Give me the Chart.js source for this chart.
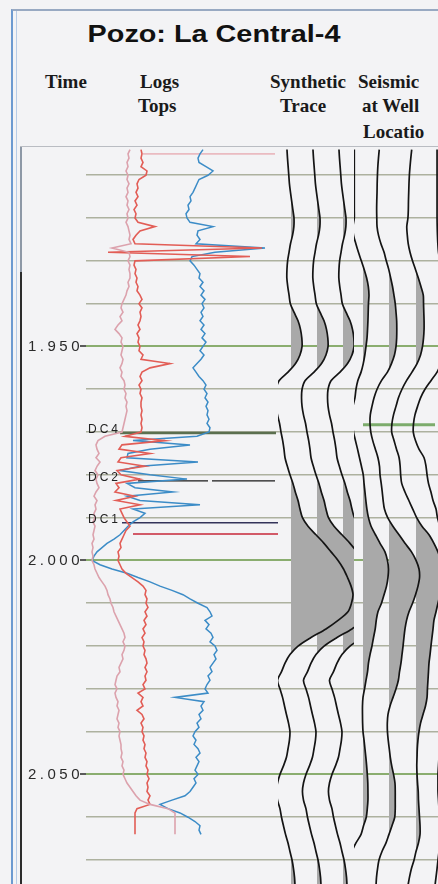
<!DOCTYPE html>
<html>
<head>
<meta charset="utf-8">
<script src="https://cdn.jsdelivr.net/npm/chart.js@4/dist/chart.umd.min.js"></script>
<style>
  html, body { margin: 0; padding: 0; }
  body { width: 438px; height: 884px; overflow: hidden; background: #f3f3f5; position: relative; }
  .frame { position: absolute; left: 11px; top: 9px; width: 440px; height: 890px; border-top: 2px solid #98a9c2; border-left: 2px solid #6d9ad0; }
  .frame2 { position: absolute; left: 16px; top: 11px; width: 1px; height: 880px; background: #b8cce6; }
  .panel { position: absolute; left: 20px; top: 146px; width: 430px; height: 750px; border-top: 1px solid #b9bcc2; }
  .edgeA { position: absolute; left: 20px; top: 147px; width: 2px; height: 125px; background: #8d98a6; }
  .edgeB { position: absolute; left: 20px; top: 272px; width: 2px; height: 620px; background: #2b2b2b; }
  .title { position: absolute; left: 214px; top: 22px; font: bold 24px "Liberation Sans", Arial, sans-serif; line-height: 24px; white-space: nowrap; color: #111; transform: translateX(-50%) scaleX(1.2); }
  .hd { position: absolute; font: bold 19px "Liberation Serif", "Times New Roman", serif; line-height: 19px; color: #1a1a1a; white-space: nowrap; }
  #wrap { position: absolute; left: 0; top: 147px; width: 470px; height: 737px; }
</style>
</head>
<body>
<div class="frame"></div>
<div class="frame2"></div>
<div class="panel"></div>
<div class="edgeA"></div>
<div class="edgeB"></div>

<div class="title">Pozo: La Central-4</div>
<div class="hd" style="left:45px;top:72px">Time</div>
<div class="hd" style="left:140px;top:72px">Logs</div>
<div class="hd" style="left:138px;top:96px">Tops</div>
<div class="hd" style="left:270px;top:72px">Synthetic</div>
<div class="hd" style="left:280px;top:96px">Trace</div>
<div class="hd" style="left:358px;top:72px">Seismic</div>
<div class="hd" style="left:362px;top:96px">at Well</div>
<div class="hd" style="left:363px;top:122px">Locatio</div>

<div id="wrap"><canvas id="c" width="470" height="737"></canvas></div>

<script>
// ---- time axis (seconds, two-way time) ----
const timeMin = 1.9034;
const timeMax = 2.0756;
const timeTicks = [1.91, 1.92, 1.93, 1.94, 1.95, 1.96, 1.97, 1.98, 1.99, 2.00, 2.01, 2.02, 2.03, 2.04, 2.05, 2.06, 2.07];
const timeTickLabels = ['', '', '', '', '1.950', '', '', '', '', '2.000', '', '', '', '', '2.050', '', ''];

// ---- well logs, sampled every 1 ms from 1.904 s (display units 0-192) ----
const logStart = 1.904;
const logStep = 0.001;
const logPink = [
  44,42,43,41,42,40,42,41,43,41,
  42,40,42,41,43,41,42,40,42,43,
  44,43,45,26,43,44,42,44,43,44,
  44,42,43,41,40,38,36,35,37,34,
  36,32,29,33,36,35,37,36,35,37,
  36,34,36,35,38,39,38,40,39,41,
  40,41,40,39,38,37,36,19,12,10,
  11,13,10,14,11,9,12,10,11,13,
  10,8,11,9,10,8,9,7,9,8,
  7,8,6,7,6,7,6,8,9,11,
  13,16,19,21,22,24,25,27,28,30,
  32,34,36,38,39,37,39,38,36,37,
  35,33,34,31,30,29,31,29,30,32,
  31,33,32,31,33,32,34,33,34,35,
  35,36,35,37,36,38,37,39,41,44,
  47,50,54,64,82,89,89,89,89,89,89
];
const logRed = [
  55,56,55,57,55,61,60,53,51,52,
  50,52,49,51,48,50,49,52,69,54,
  50,47,49,176,22,164,49,48,50,49,
  51,50,52,51,54,56,53,56,54,55,
  54,52,54,51,53,52,54,53,57,55,
  84,64,56,54,56,53,55,54,56,55,
  55,56,55,56,55,56,55,39,79,36,
  33,64,35,32,59,31,35,54,30,33,
  29,49,30,54,34,36,38,41,44,40,
  38,36,34,35,32,33,32,34,36,40,
  46,52,57,60,59,61,60,62,59,61,
  58,60,57,59,56,58,57,59,58,60,
  61,59,61,59,60,57,59,52,57,55,
  57,51,56,58,55,57,56,58,57,59,
  58,60,59,61,60,62,61,63,61,62,
  61,64,62,64,51,49,49,49,49,49,49
];
const logBlue = [
  117,114,112,113,120,127,122,113,111,109,
  107,104,105,102,103,100,101,104,127,112,
  111,114,110,179,129,106,104,108,111,114,
  113,117,114,118,115,119,116,118,115,117,
  114,118,115,119,116,120,117,114,118,115,
  111,107,110,113,117,120,118,121,119,122,
  120,122,121,123,121,124,123,111,47,104,
  64,42,41,112,54,34,64,101,41,49,
  87,41,54,114,47,59,54,47,42,38,
  34,28,21,16,11,8,6,14,26,41,
  52,64,74,86,97,104,112,121,124,126,
  119,123,120,125,127,124,129,131,128,130,
  127,124,126,122,124,121,119,122,89,118,
  115,117,113,115,111,113,109,107,110,108,
  112,114,110,113,111,109,112,108,110,107,
  104,99,86,74,82,94,102,109,114,113,115
];

// ---- formation tops and picks ----
const topNames = ['DC4', 'DC2', 'DC1'];
const topTimes = [1.9702, 1.9814, 1.9912];
const logHeadTime = 1.9050;
const logMarkTime = 1.9938;
const horizonTime = 1.9683;

// ---- traces, sampled every 2 ms from 1.904 s (normalised amplitude) ----
const traceStart = 1.904;
const traceStep = 0.002;
const synthetic = [
  -0.31,-0.27,-0.22,-0.17,-0.12,-0.04,0.05,0.14,0.23,0.22,
  0.12,-0.04,-0.15,-0.26,-0.31,-0.32,-0.25,-0.15,-0.05,0.23,
  0.54,0.73,0.83,0.85,0.69,0.35,-0.23,-0.92,-1.15,-1.19,
  -1.15,-1.04,-0.88,-0.77,-0.64,-0.54,-0.46,-0.28,-0.08,0.15,
  0.33,0.54,0.69,0.88,1.31,1.92,2.54,3.08,3.62,4.04,
  4.35,4.62,4.77,4.65,4.38,3.62,2.69,1.54,0.54,-0.08,
  -0.46,-0.73,-1.04,-0.85,-0.65,-0.5,-0.35,-0.19,-0.08,-0.12,
  -0.23,-0.35,-0.58,-0.85,-1.04,-1.12,-1.04,-0.85,-0.73,-0.58,
  -0.42,-0.23,-0.08,0.08,0.19,0.27,0.31
];
const seismicA = [
  -0.67,-0.67,-0.67,-0.67,-0.67,-0.67,-0.67,-0.67,-0.67,-0.77,
  -0.73,-0.55,-0.35,-0.13,0.09,0.28,0.41,0.46,0.42,0.4,
  0.38,0.35,0.31,0.23,0.14,0.02,-0.15,-0.4,-0.54,-0.62,
  -0.77,-0.81,-0.81,-0.73,-0.58,-0.42,-0.27,-0.12,0.02,0.08,
  0.15,0.22,0.3,0.42,0.62,0.96,1.31,1.69,1.88,1.96,
  1.92,1.81,1.62,1.42,1.15,1.02,0.94,0.81,0.69,0.54,
  0.42,0.35,0.23,0.12,0,-0.04,-0.04,-0.03,0,0.08,
  0.15,0.22,0.28,0.33,0.37,0.38,0.38,0.33,0.25,0.04,
  -0.15,-0.54,-0.85,-1.0,-1.08,-1.08,-1.08
];
const seismicB = [
  -0.75,-0.81,-0.86,-0.89,-0.91,-0.92,-0.94,-0.95,-0.94,-0.92,
  -0.81,-0.62,-0.38,-0.21,-0.02,0.13,0.27,0.38,0.48,0.54,
  0.59,0.6,0.59,0.54,0.42,0.19,-0.12,-0.58,-0.92,-1.15,
  -1.31,-1.44,-1.46,-1.4,-1.25,-1.05,-0.85,-0.73,-0.69,-0.6,
  -0.52,-0.45,-0.35,-0.1,0.3,0.77,1.23,1.73,2.08,2.31,
  2.35,2.23,2.04,1.81,1.54,1.35,1.23,1.15,1.08,1.0,
  0.92,0.81,0.72,0.54,0.31,0.08,-0.08,-0.13,-0.12,-0.06,
  0.02,0.1,0.21,0.35,0.46,0.48,0.48,0.48,0.44,0.23,
  0,-0.23,-0.54,-0.77,-0.88,-0.96,-1.0
];
const seismicC = [
  -0.33,-0.4,-0.46,-0.51,-0.54,-0.56,-0.58,-0.59,-0.62,-0.71,
  -0.67,-0.6,-0.46,-0.27,-0.04,0.18,0.38,0.56,0.58,0.6,
  0.62,0.62,0.58,0.5,0.35,0.08,-0.31,-0.73,-1.08,-1.35,
  -1.54,-1.73,-1.85,-1.87,-1.69,-1.5,-1.3,-1.22,-1.18,-1.1,
  -0.85,-0.55,-0.25,0.05,0.46,1.0,1.38,1.69,1.92,2.08,
  2.08,2.0,1.85,1.69,1.54,1.38,1.31,1.23,1.15,1.08,
  1.0,0.96,0.92,0.88,0.85,0.73,0.54,0.35,0.23,0.15,
  0.1,0.08,0.06,0.08,0.12,0.17,0.19,0.23,0.27,0.31,
  0.31,0.19,0,-0.15,-0.35,-0.5,-0.62
];
const seismicD = [
  -0.38,-0.38,-0.38,-0.38,-0.38,-0.38,-0.38,-0.38,-0.38,-0.37,
  -0.35,-0.32,-0.27,-0.15,0.08,0.31,0.54,0.62,0.62,0.62,
  0.58,0.54,0.46,0.35,0.19,-0.08,-0.38,-0.85,-1.31,-1.65,
  -1.88,-2.08,-2.19,-2.21,-2.04,-1.77,-1.38,-1.23,-1.15,-1.04,
  -0.85,-0.69,-0.46,-0.35,-0.15,0.23,0.62,1.0,1.31,1.54,
  1.62,1.62,1.54,1.38,1.23,1.08,0.92,0.77,0.69,0.62,
  0.54,0.46,0.38,0.31,0.23,0.15,0.08,0,-0.08,-0.15,
  -0.19,-0.23,-0.27,-0.31,-0.31,-0.31,-0.27,-0.23,-0.19,-0.15,
  -0.15,-0.19,-0.23,-0.31,-0.38,-0.46,-0.54
];

// ---- track layout: columns placed side by side along the bottom stack ----
const GAIN = 13; // pixels per unit of trace amplitude
const columns = [
  { id: 'xLog',   width: 192, min: 0, max: 192 },
  { id: 'syn1',   width: 26, lo: 13, hi: 13 },
  { id: 'syn2',   width: 26, lo: 13, hi: 13 },
  { id: 'syn3',   width: 24, lo: 13, hi: 11 },
  { id: 'seisA',  width: 22, lo: 9,  hi: 13 },
  { id: 'seisB',  width: 26, lo: 13, hi: 13 },
  { id: 'seisC',  width: 27, lo: 14, hi: 13 },
  { id: 'seisD',  width: 28, lo: 13, hi: 15 },
  { id: 'xPad',   width: 13, min: 0, max: 1 }
];
const panels = {
  synthetic: ['syn1', 'syn3'],
  seismic: ['seisA', 'xPad']
};

const AREA_FILL = '#a9a9a9';
const TRACE_INK = '#141414';

const toPoints = (vals, start, step) =>
  vals.map((v, i) => ({ x: v, y: +(start + i * step).toFixed(4) }));
const flat = (t, x0, x1) => [{ x: x0, y: t }, { x: x1, y: t }];

function logSet(vals, color, width) {
  return {
    data: toPoints(vals, logStart, logStep), xAxisID: 'xLog', yAxisID: 'y',
    borderColor: color, borderWidth: width, pointRadius: 0, tension: 0, fill: false
  };
}
function lineSet(data, axis, color, width, dash, panel) {
  return {
    data, xAxisID: axis, yAxisID: 'y', borderColor: color, borderWidth: width,
    borderDash: dash || [], pointRadius: 0, tension: 0, fill: false, panel,
    clip: panel ? false : undefined
  };
}
function traceSet(vals, axis, panel) {
  return {
    data: toPoints(vals, traceStart, traceStep), xAxisID: axis, yAxisID: 'y',
    borderColor: TRACE_INK, borderWidth: 1.7, pointRadius: 0, tension: 0.3,
    fill: false, clip: false, panel, areaFill: AREA_FILL
  };
}

const datasets = [
  logSet(logPink, '#dca2ad', 1.6),
  logSet(logRed, '#e25d56', 1.6),
  logSet(logBlue, '#3c8cc7', 1.5),
  lineSet(flat(logHeadTime, 57, 189), 'xLog', 'rgba(226,140,150,0.55)', 1.6),
  lineSet(flat(topTimes[0], 34, 190), 'xLog', '#5b6f4f', 2.5),
  lineSet(flat(topTimes[1], 52, 189), 'xLog', '#1a1a1a', 1.3, [70, 4]),
  lineSet(flat(topTimes[2], 36, 193), 'xLog', '#34345a', 1.6),
  lineSet(flat(logMarkTime, 47, 194), 'xLog', '#d25a68', 2),
  traceSet(synthetic, 'syn1', 'synthetic'),
  traceSet(synthetic, 'syn2', 'synthetic'),
  traceSet(synthetic, 'syn3', 'synthetic'),
  traceSet(seismicA, 'seisA', 'seismic'),
  traceSet(seismicB, 'seisB', 'seismic'),
  traceSet(seismicC, 'seisC', 'seismic'),
  traceSet(seismicD, 'seisD', 'seismic'),
  lineSet(flat(horizonTime, 0, 5.54), 'seisA', '#7cac6c', 3, null, 'seismic')
];

// variable-area shading: fill between a trace's zero line and its positive lobes
function drawArea(chart, meta, data, color) {
  const ctx = chart.ctx;
  const xs = meta.xScale, ys = meta.yScale;
  const base = xs.getPixelForValue(0);
  ctx.fillStyle = color;
  let open = false;
  for (let i = 0; i < data.length; i++) {
    const v = data[i].x;
    const X = xs.getPixelForValue(v);
    const Y = ys.getPixelForValue(data[i].y);
    if (v > 0) {
      if (!open) {
        ctx.beginPath();
        if (i > 0) {
          const u = data[i - 1].x;
          const Yp = ys.getPixelForValue(data[i - 1].y);
          ctx.moveTo(base, Yp + (Y - Yp) * (-u) / (v - u));
        } else {
          ctx.moveTo(base, Y);
        }
        open = true;
      }
      ctx.lineTo(X, Y);
    } else if (open) {
      const u = data[i - 1].x;
      const Yp = ys.getPixelForValue(data[i - 1].y);
      ctx.lineTo(base, Yp + (Y - Yp) * u / (u - v));
      ctx.closePath();
      ctx.fill();
      open = false;
    }
  }
  if (open) {
    ctx.lineTo(base, ys.getPixelForValue(data[data.length - 1].y));
    ctx.closePath();
    ctx.fill();
  }
}

// clip each trace panel to its own columns, and shade the traces inside it
const panelClip = {
  id: 'panelClip',
  beforeDatasetDraw(chart, args) {
    const ds = chart.data.datasets[args.index];
    const p = ds.panel && panels[ds.panel];
    if (!p) return;
    const a = chart.chartArea;
    const left = chart.scales[p[0]].left;
    const right = chart.scales[p[1]].right;
    const ctx = chart.ctx;
    ctx.save();
    ctx.beginPath();
    ctx.rect(left, a.top, right - left, a.bottom - a.top);
    ctx.clip();
    if (ds.areaFill) drawArea(chart, args.meta, ds.data, ds.areaFill);
  },
  afterDatasetDraw(chart, args) {
    const ds = chart.data.datasets[args.index];
    if (ds.panel && panels[ds.panel]) chart.ctx.restore();
  }
};

// spaced lettering for the axis numbers, and the tops names
const lettering = {
  id: 'lettering',
  beforeDraw(chart) { chart.ctx.letterSpacing = '3.5px'; },
  afterDatasetsDraw(chart) {
    const { ctx, scales } = chart;
    ctx.save();
    ctx.letterSpacing = '3px';
    ctx.font = '12px "Liberation Sans", Arial, sans-serif';
    ctx.fillStyle = '#222';
    ctx.textAlign = 'left';
    ctx.textBaseline = 'alphabetic';
    topNames.forEach((name, i) => {
      ctx.fillText(name, scales.xLog.left + 2, scales.y.getPixelForValue(topTimes[i]));
    });
    ctx.restore();
  },
  afterDraw(chart) { chart.ctx.letterSpacing = '0px'; }
};

const scales = {
  y: {
    type: 'linear', position: 'left', reverse: true, min: timeMin, max: timeMax,
    afterBuildTicks: s => { s.ticks = timeTicks.map(v => ({ value: v })); },
    afterFit: s => { s.width = 86; },
    border: { display: false },
    grid: {
      color: c => timeTickLabels[c.index] ? '#8aad6f' : '#adb19f',
      lineWidth: c => timeTickLabels[c.index] ? 2 : 1.6,
      tickLength: 6,
      tickColor: c => timeTickLabels[c.index] ? '#5a5a5a' : 'rgba(0,0,0,0)'
    },
    ticks: {
      autoSkip: false, padding: -3, color: '#2a2a2a',
      font: { family: '"Liberation Sans", Arial, sans-serif', size: 15, lineHeight: 0.01 },
      callback: (v, i) => timeTickLabels[i]
    }
  }
};
columns.forEach(c => {
  scales[c.id] = {
    type: 'linear', position: 'bottom', stack: 'tracks', stackWeight: c.width,
    min: c.min !== undefined ? c.min : -c.lo / GAIN,
    max: c.max !== undefined ? c.max : c.hi / GAIN,
    display: false, grid: { display: false }
  };
});

const chart = new Chart(document.getElementById('c'), {
  type: 'line',
  data: { datasets },
  options: {
    indexAxis: 'y',
    responsive: false,
    devicePixelRatio: 1,
    animation: false,
    events: [],
    layout: { padding: 0, autoPadding: false },
    plugins: { legend: { display: false }, tooltip: { enabled: false }, title: { display: false } },
    scales
  },
  plugins: [panelClip, lettering]
});

// keep 1.950 s and 2.050 s on their page rows whatever inset the layout leaves
const PX_PER_S = 4280, ROW_1950 = 346.5 - 147;
const area = chart.chartArea;
if (Math.abs(area.top) > 0.3 || Math.abs(area.bottom - 737) > 0.3) {
  chart.options.scales.y.min = 1.950 - (ROW_1950 - area.top) / PX_PER_S;
  chart.options.scales.y.max = 1.950 + (area.bottom - ROW_1950) / PX_PER_S;
  chart.update();
}
</script>
</body>
</html>
